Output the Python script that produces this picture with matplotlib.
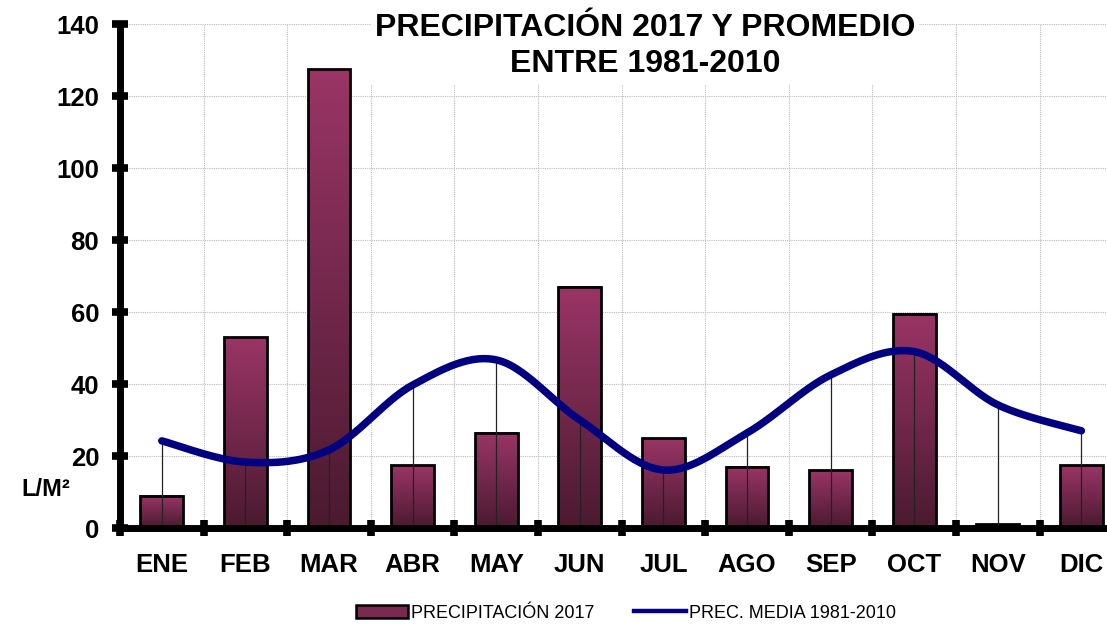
import numpy as np
import matplotlib
matplotlib.use("Agg")
import matplotlib.pyplot as plt
from matplotlib.patches import Rectangle, Patch
from matplotlib.lines import Line2D
from matplotlib.colors import LinearSegmentedColormap

plt.rcParams['font.family'] = ['Liberation Sans', 'DejaVu Sans']

months = ["ENE", "FEB", "MAR", "ABR", "MAY", "JUN", "JUL", "AGO", "SEP", "OCT", "NOV", "DIC"]
prec_2017 = [9, 53, 127.5, 17.5, 26.5, 67, 25, 17, 16, 59.5, 1, 17.5]
prec_media = [24.2, 18.3, 21.7, 39.7, 46.7, 30, 16.1, 26.4, 42.5, 49, 34.2, 27]
yticks = [0, 20, 40, 60, 80, 100, 120, 140]

title = "PRECIPITACIÓN 2017 Y PROMEDIO\nENTRE 1981-2010"
bar_label = "PRECIPITACIÓN 2017"
line_label = "PREC. MEDIA 1981-2010"

W, H = 1107, 624
fig = plt.figure(figsize=(W / 100, H / 100), dpi=100)
ax = fig.add_axes([120 / W, 96 / H, (W - 120) / W, 504 / H])

x = np.arange(len(months))
bw = 0.51
cmap = LinearSegmentedColormap.from_list("g", ["#4a1a30", "#9a3566"])
grad = np.linspace(0, 1, 256).reshape(-1, 1)

for xi, v in zip(x, prec_2017):
    ax.imshow(grad, extent=[xi - bw / 2, xi + bw / 2, 0, v], origin="lower",
              cmap=cmap, aspect="auto", zorder=2, interpolation="bilinear")
    ax.add_patch(Rectangle((xi - bw / 2, 0), bw, v, fill=False, edgecolor="black",
                           linewidth=2.0, zorder=3))

# drop lines
ax.vlines(x, 0, prec_media, colors="#222222", linewidth=0.9, zorder=4)

# smoothed line (Bezier like Excel smoothing)
def smooth(xs, ys, n=30):
    xs = np.asarray(xs, float); ys = np.asarray(ys, float)
    P = np.column_stack([xs, ys])
    out = []
    for i in range(len(P) - 1):
        p0 = P[i - 1] if i > 0 else P[i]
        p1 = P[i]; p2 = P[i + 1]
        p3 = P[i + 2] if i + 2 < len(P) else P[i + 1]
        c1 = p1 + (p2 - p0) / 6.0
        c2 = p2 - (p3 - p1) / 6.0
        t = np.linspace(0, 1, n)[:, None]
        seg = (1 - t) ** 3 * p1 + 3 * (1 - t) ** 2 * t * c1 + 3 * (1 - t) * t ** 2 * c2 + t ** 3 * p2
        out.append(seg if i == 0 else seg[1:])
    return np.vstack(out)

S = smooth(x, prec_media)
ax.plot(S[:, 0], S[:, 1], color="#000080", linewidth=5.4, solid_capstyle="round", zorder=5)

ax.set_yticks(yticks)
ax.set_yticklabels([str(t) for t in yticks], fontsize=18.5, fontweight="bold")
ax.set_xticks(x)
ax.set_xticklabels(months, fontsize=18.5, fontweight="bold")
ax.tick_params(axis="x", which="major", length=0, pad=18)
ax.set_xticks(np.arange(-0.5, 12, 1), minor=True)
ax.tick_params(axis="x", which="minor", direction="inout", length=12, width=5.5, color="black")
ax.tick_params(axis="y", which="major", direction="inout", length=12, width=5.5, pad=9)
ax.set_xlim(-0.5, -0.5 + (W - 120) / 83.6)
ax.set_ylim(0, 140)

ax.grid(True, which="minor", axis="x", linestyle=(0, (1, 1)), color="#bbbbbb", linewidth=0.8, zorder=0)
ax.grid(True, which="major", axis="y", linestyle=(0, (1, 1)), color="#bbbbbb", linewidth=0.8, zorder=0)
ax.set_axisbelow(True)

for s in ["top", "right"]:
    ax.spines[s].set_visible(False)
ax.spines["left"].set_linewidth(5)
ax.spines["bottom"].set_linewidth(5)
for s in ["left", "bottom"]:
    ax.spines[s].set_zorder(6)

fig.text(645 / W, 1 - 46 / H, title, ha="center", va="center", fontsize=23, fontweight="bold",
         linespacing=1.3, bbox=dict(facecolor="white", edgecolor="none", pad=3), zorder=10)

fig.text(46 / W, 1 - 490 / H, "L/M²", ha="center", va="center", fontsize=17, fontweight="bold")

handles = [Patch(facecolor="#7a2a50", edgecolor="black", linewidth=1.8),
           Line2D([0], [0], color="#000080", linewidth=3.2)]
fig.legend(handles, [bar_label, line_label], loc="center", bbox_to_anchor=(626 / W, 1 - 613 / H),
           ncol=2, frameon=False, fontsize=13, handlelength=2.9, handletextpad=0.15,
           columnspacing=2.2, handleheight=0.7)

fig.savefig("out.png", dpi=100)
